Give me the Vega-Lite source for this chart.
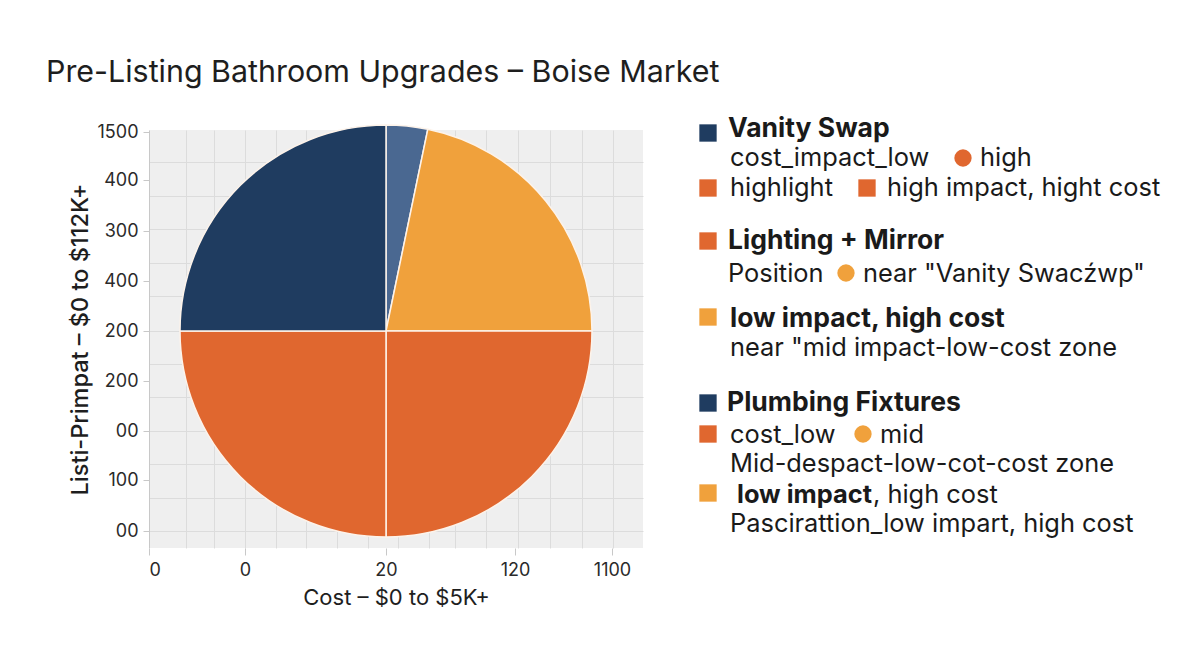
{
  "$schema": "https://vega.github.io/schema/vega-lite/v6.json",
  "background": "#ffffff",
  "padding": {"left": 46, "top": 57, "right": 5, "bottom": 5},
  "title": {
    "text": "Pre-Listing Bathroom Upgrades – Boise Market",
    "anchor": "start",
    "font": "Inter",
    "fontSize": 30.4,
    "fontWeight": "normal",
    "color": "#1e1e1e",
    "offset": 28,
    "dx": -22
  },
  "config": {
    "font": "Inter",
    "view": {"stroke": null}
  },
  "datasets": {
    "slices": [
      {"item": "Plumbing Fixtures", "share": 11.7, "seq": 1},
      {"item": "low impact, high cost", "share": 78.3, "seq": 2},
      {"item": "high impact, hight cost", "share": 90, "seq": 3},
      {"item": "Lighting + Mirror", "share": 90, "seq": 4},
      {"item": "Vanity Swap", "share": 90, "seq": 5}
    ],
    "notes": [
      {"text": "Vanity Swap", "pos": 38, "line": 7, "kind": "head"},
      {"text": "cost_impact_low", "pos": 40, "line": 36, "kind": "body"},
      {"text": "high", "pos": 290, "line": 36, "kind": "body"},
      {"text": "highlight", "pos": 40, "line": 66, "kind": "body"},
      {"text": "high impact, hight cost", "pos": 197, "line": 66, "kind": "body"},
      {"text": "Lighting + Mirror", "pos": 38, "line": 119, "kind": "head"},
      {"text": "Position", "pos": 38, "line": 152, "kind": "body"},
      {"text": "near \"Vanity Swacźwp\"", "pos": 173, "line": 152, "kind": "body"},
      {"text": "low impact, high cost", "pos": 40, "line": 197, "kind": "head"},
      {"text": "near \"mid impact-low-cost zone", "pos": 40, "line": 226, "kind": "body"},
      {"text": "Plumbing Fixtures", "pos": 37, "line": 281, "kind": "head"},
      {"text": "cost_low", "pos": 40, "line": 313, "kind": "body"},
      {"text": "mid", "pos": 190, "line": 313, "kind": "body"},
      {"text": "Mid-despact-low-cot-cost zone", "pos": 40, "line": 342, "kind": "body"},
      {"text": "low impact", "pos": 47, "line": 373, "kind": "strong"},
      {"text": ", high cost", "pos": 183, "line": 373, "kind": "body"},
      {"text": "Pascirattion_low impart, high cost", "pos": 40, "line": 402, "kind": "body"}
    ],
    "swatches": [
      {"marker": "square", "pos": 18, "line": 3, "item": "Vanity Swap"},
      {"marker": "circle", "pos": 273, "line": 28, "item": "Lighting + Mirror"},
      {"marker": "square", "pos": 18, "line": 58, "item": "Lighting + Mirror"},
      {"marker": "square", "pos": 177, "line": 58, "item": "high impact, hight cost"},
      {"marker": "square", "pos": 18, "line": 111, "item": "Lighting + Mirror"},
      {"marker": "circle", "pos": 156, "line": 143, "item": "low impact, high cost"},
      {"marker": "square", "pos": 18, "line": 187, "item": "low impact, high cost"},
      {"marker": "square", "pos": 18, "line": 273, "item": "Vanity Swap"},
      {"marker": "square", "pos": 18, "line": 304, "item": "Lighting + Mirror"},
      {"marker": "circle", "pos": 173, "line": 304, "item": "low impact, high cost"},
      {"marker": "square", "pos": 18, "line": 363, "item": "low impact, high cost"}
    ]
  },
  "hconcat": [
    {
      "width": 494,
      "height": 418,
      "view": {"fill": "#efefef", "stroke": null},
      "resolve": {"axis": {"x": "independent", "y": "independent"}},
      "layer": [
        {
          "data": {"name": "slices"},
          "mark": {"type": "point", "opacity": 0},
          "encoding": {
            "x": {
              "datum": 0, "type": "quantitative",
              "scale": {"domain": [0, 494], "nice": false, "zero": false},
              "axis": {
                "orient": "bottom", "title": null, "labels": false, "ticks": false, "domain": false,
                "grid": true, "gridColor": "#dcdcdc", "gridWidth": 1,
                "values": [37, 65, 96, 127, 157, 188, 219, 249, 280, 306, 337, 369, 401, 433, 464]
              }
            },
            "y": {
              "datum": 0, "type": "quantitative",
              "scale": {"domain": [0, 418], "nice": false, "zero": false},
              "axis": {
                "orient": "left", "title": null, "labels": false, "ticks": false, "domain": false,
                "grid": true, "gridColor": "#dcdcdc", "gridWidth": 1,
                "values": [386, 352, 319, 285, 252, 217, 184, 151, 117, 84, 50, 17]
              }
            }
          }
        },
        {
          "data": {"name": "slices"},
          "mark": {"type": "arc", "outerRadius": 206, "stroke": "#fdf3ea", "strokeWidth": 1.5},
          "encoding": {
            "theta": {"field": "share", "type": "quantitative", "stack": true},
            "order": {"field": "seq", "type": "quantitative"},
            "color": {
              "field": "item", "type": "nominal", "legend": null,
              "scale": {
                "domain": ["Vanity Swap", "Plumbing Fixtures", "low impact, high cost", "Lighting + Mirror", "high impact, hight cost"],
                "range": ["#1f3c60", "#4a6891", "#f0a13c", "#e0672f", "#e0672f"]
              }
            },
            "x": {
              "datum": 237, "type": "quantitative",
              "axis": {
                "orient": "bottom",
                "title": "Cost – $0 to $5K+",
                "titleFont": "Inter", "titleFontSize": 22, "titleFontWeight": "normal", "titleColor": "#1e1e1e",
                "titlePadding": 8,
                "values": [0, 96, 237, 366, 463],
                "labelExpr": "datum.value == 0 ? '0' : datum.value == 96 ? '0' : datum.value == 237 ? '20' : datum.value == 366 ? '120' : '1100'",
                "labelFont": "Inter", "labelFontSize": 18, "labelColor": "#2a2a2a", "labelPadding": 6,
                "grid": false, "domain": false, "ticks": true, "tickColor": "#c8c8c8", "tickSize": 7
              }
            },
            "y": {
              "datum": 217, "type": "quantitative",
              "axis": {
                "orient": "left",
                "title": "Listi-Primpat – $0 to $112K+",
                "titleFont": "Inter", "titleFontSize": 23.5, "titleFontWeight": 500, "titleColor": "#1e1e1e",
                "titlePadding": 5,
                "values": [17, 68, 117, 167, 217, 267, 317, 368, 416],
                "labelExpr": "datum.value == 416 ? '1500' : datum.value == 368 ? '400' : datum.value == 317 ? '300' : datum.value == 267 ? '400' : datum.value == 217 ? '200' : datum.value == 167 ? '200' : datum.value == 117 ? '00' : datum.value == 68 ? '100' : '00'",
                "labelFont": "Inter", "labelFontSize": 18, "labelColor": "#2a2a2a", "labelPadding": 5,
                "grid": false, "domain": true, "domainColor": "#c8c8c8", "ticks": true, "tickColor": "#c8c8c8", "tickSize": 6
              }
            }
          }
        }
      ]
    },
    {
      "width": 480,
      "height": 418,
      "view": {"stroke": null},
      "layer": [
        {
          "data": {"name": "swatches"},
          "mark": {"type": "point", "filled": true, "size": 300, "opacity": 1},
          "encoding": {
            "x": {"field": "pos", "type": "quantitative", "scale": {"domain": [0, 480], "nice": false, "zero": false}, "axis": null},
            "y": {"field": "line", "type": "quantitative", "scale": {"domain": [0, 418], "nice": false, "zero": false, "reverse": true}, "axis": null},
            "shape": {"field": "marker", "type": "nominal", "legend": null, "scale": {"domain": ["square", "circle"], "range": ["square", "circle"]}},
            "color": {
              "field": "item", "type": "nominal", "legend": null,
              "scale": {
                "domain": ["Vanity Swap", "Plumbing Fixtures", "low impact, high cost", "Lighting + Mirror", "high impact, hight cost"],
                "range": ["#1f3c60", "#4a6891", "#f0a13c", "#e0672f", "#e0672f"]
              }
            }
          }
        },
        {
          "data": {"name": "notes"},
          "transform": [{"filter": "datum.kind == 'head'"}],
          "mark": {"type": "text", "align": "left", "baseline": "alphabetic", "font": "Inter", "fontSize": 26.5, "fontWeight": "bold", "color": "#1a1a1a"},
          "encoding": {
            "x": {"field": "pos", "type": "quantitative", "scale": {"domain": [0, 480], "nice": false, "zero": false}, "axis": null},
            "y": {"field": "line", "type": "quantitative", "scale": {"domain": [0, 418], "nice": false, "zero": false, "reverse": true}, "axis": null},
            "text": {"field": "text", "type": "nominal"}
          }
        },
        {
          "data": {"name": "notes"},
          "transform": [{"filter": "datum.kind == 'body'"}],
          "mark": {"type": "text", "align": "left", "baseline": "alphabetic", "font": "Inter", "fontSize": 25.4, "fontWeight": "normal", "color": "#1a1a1a"},
          "encoding": {
            "x": {"field": "pos", "type": "quantitative", "scale": {"domain": [0, 480], "nice": false, "zero": false}, "axis": null},
            "y": {"field": "line", "type": "quantitative", "scale": {"domain": [0, 418], "nice": false, "zero": false, "reverse": true}, "axis": null},
            "text": {"field": "text", "type": "nominal"}
          }
        },
        {
          "data": {"name": "notes"},
          "transform": [{"filter": "datum.kind == 'strong'"}],
          "mark": {"type": "text", "align": "left", "baseline": "alphabetic", "font": "Inter", "fontSize": 25.4, "fontWeight": "bold", "color": "#1a1a1a"},
          "encoding": {
            "x": {"field": "pos", "type": "quantitative", "scale": {"domain": [0, 480], "nice": false, "zero": false}, "axis": null},
            "y": {"field": "line", "type": "quantitative", "scale": {"domain": [0, 418], "nice": false, "zero": false, "reverse": true}, "axis": null},
            "text": {"field": "text", "type": "nominal"}
          }
        }
      ]
    }
  ],
  "spacing": 47
}
